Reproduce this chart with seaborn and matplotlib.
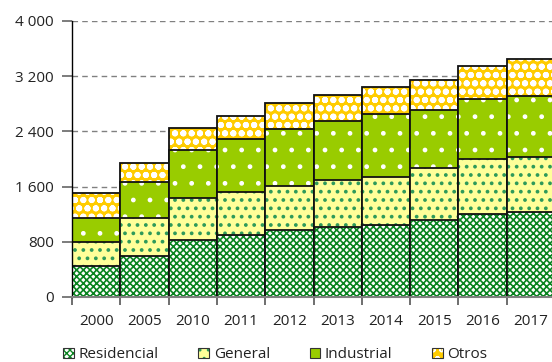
import matplotlib
matplotlib.use("Agg")
import matplotlib.pyplot as plt
import matplotlib.colors as mcolors
from matplotlib.patches import Patch
from matplotlib.ticker import FuncFormatter, FixedLocator
import numpy as np
import seaborn as sns

years = ["2000", "2005", "2010", "2011", "2012", "2013", "2014", "2015", "2016", "2017"]
residencial = [445, 600, 820, 896, 964, 1018, 1047, 1120, 1207, 1236]
general = [345, 544, 620, 626, 651, 684, 698, 751, 786, 800]
industrial = [349, 518, 693, 762, 819, 843, 905, 834, 877, 877]
otros = [364, 287, 320, 339, 373, 383, 400, 446, 475, 538]

series_names = ["Residencial", "General", "Industrial", "Otros"]
series_values = [residencial, general, industrial, otros]
face_colors = ["#ffffff", "#ffff99", "#99cc00", "#ffcc00"]
hatch_colors = ["#0a8420", "#2e9a5a", "#ffffff", "#ffffff"]
hatches = ["xxxxx", "..", ".", "oo"]
hatch_widths = [1.2, 1.5, 1.0, 2.0]

sns.set_theme(style="white")
plt.rcParams["font.family"] = ["Open Sans", "DejaVu Sans"]

fig = plt.figure(figsize=(5.52, 3.62), dpi=100)
ax = fig.add_axes([72 / 552, 65 / 362, 483 / 552, 276 / 362])


def apply_hatch(patch, hatch, color, width):
    patch.set_hatch(hatch)
    if hasattr(patch, "set_hatchcolor"):
        patch.set_hatchcolor(color)
    else:
        patch._hatch_color = mcolors.to_rgba(color)
    if hasattr(patch, "set_hatch_linewidth"):
        patch.set_hatch_linewidth(width)
    elif hasattr(patch, "_hatch_linewidth"):
        patch._hatch_linewidth = width


cumulative = np.cumsum(np.array(series_values), axis=0)

# Draw stacked totals from the top layer down so lower layers cover upper ones
for i in reversed(range(len(series_names))):
    with plt.rc_context({"hatch.linewidth": hatch_widths[i]}):
        sns.barplot(x=years, y=cumulative[i], order=years, color=face_colors[i],
                    saturation=1, width=1.0, edgecolor="#111111", linewidth=1.3,
                    errorbar=None, ax=ax, zorder=2)
        for p in ax.containers[-1]:
            apply_hatch(p, hatches[i], hatch_colors[i], hatch_widths[i])

ax.set_xlim(-0.5, 9.5)
ax.set_ylim(0, 4000)
ax.set_yticks([0, 800, 1600, 2400, 3200, 4000])
ax.yaxis.set_major_formatter(FuncFormatter(lambda v, _: f"{int(v):,}".replace(",", " ")))
ax.set_xlabel("")
ax.set_ylabel("")

ax.set_axisbelow(True)
ax.grid(axis="y", color="#808080", linestyle=(0, (4, 3)), linewidth=1.0)
ax.grid(axis="x", visible=False)

for side in ["top", "right"]:
    ax.spines[side].set_visible(False)
ax.spines["left"].set_color("#000000")
ax.spines["left"].set_linewidth(1.0)
ax.spines["bottom"].set_color("#808080")
ax.spines["bottom"].set_linewidth(1.5)

ax.tick_params(axis="y", which="major", length=7, width=1.2, color="#666666",
               pad=6, labelsize=11, labelcolor="#222222", left=True)
ax.xaxis.set_minor_locator(FixedLocator(np.arange(-0.5, 10.0, 1.0)))
ax.tick_params(axis="x", which="major", length=0, pad=12, labelsize=11,
               labelcolor="#222222")
ax.tick_params(axis="x", which="minor", length=6, width=1.2, color="#555555",
               bottom=True)

handles = []
for i, name in enumerate(series_names):
    with plt.rc_context({"hatch.linewidth": hatch_widths[i]}):
        h = Patch(facecolor=face_colors[i], edgecolor="#333333", linewidth=0.8, label=name)
        apply_hatch(h, hatches[i], hatch_colors[i], hatch_widths[i])
    handles.append(h)

fig.legend(handles=handles, loc="center", bbox_to_anchor=(0.499, 0.02), ncol=4,
           frameon=False, fontsize=11, handlelength=0.7, handleheight=0.7,
           handletextpad=0.3, columnspacing=2.6, labelcolor="#222222")

fig.savefig("out.png", dpi=100)
